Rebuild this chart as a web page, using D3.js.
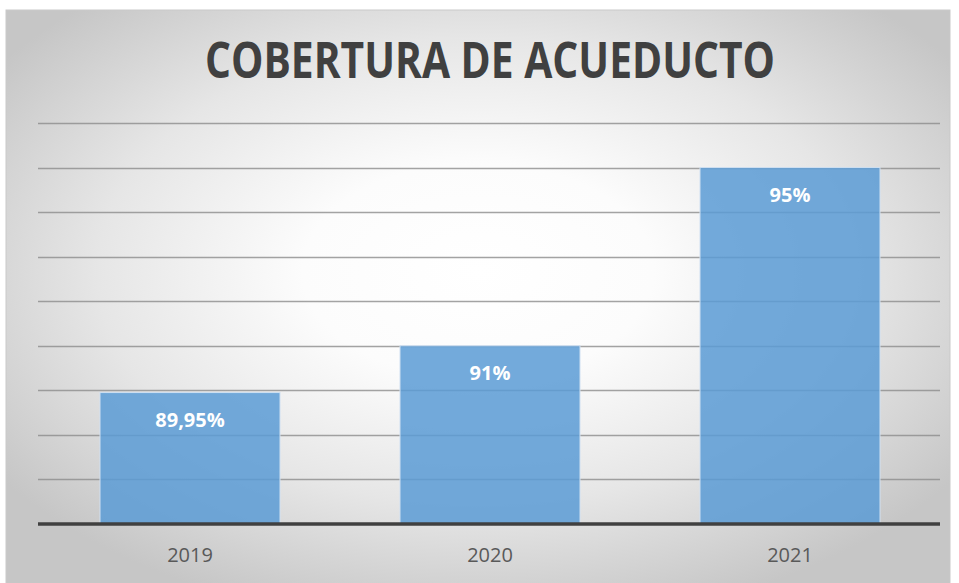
<!DOCTYPE html>
<html><head><meta charset="utf-8">
<script src="https://cdn.jsdelivr.net/npm/d3@7"></script>
<style>body{margin:0;background:#fff}svg{display:block}</style>
</head><body>
<script>
const categories = ["2019", "2020", "2021"];
const values = [89.95, 91, 95];
const valueLabels = ["89,95%", "91%", "95%"];
const gridTicks = [88, 89, 90, 91, 92, 93, 94, 95, 96];
const title = "COBERTURA DE ACUEDUCTO";

const W = 959, H = 583;
const svg = d3.select("body").append("svg").attr("width", W).attr("height", H);
const defs = svg.append("defs");
const rg = defs.append("radialGradient").attr("id", "bg")
  .attr("cx", "50%").attr("cy", "45%").attr("r", "62%");
rg.append("stop").attr("offset", "0%").attr("stop-color", "#ffffff");
rg.append("stop").attr("offset", "30%").attr("stop-color", "#fcfcfc");
rg.append("stop").attr("offset", "65%").attr("stop-color", "#e6e6e6");
rg.append("stop").attr("offset", "100%").attr("stop-color", "#c6c6c6");

svg.append("rect").attr("x", 6).attr("y", 10).attr("width", 944).attr("height", 580)
  .attr("fill", "url(#bg)").attr("stroke", "#c9c9c9").attr("stroke-width", 1);

const x = d3.scaleBand().domain(categories).range([40, 940]).paddingInner(0.4).paddingOuter(0.2);
const y = d3.scaleLinear().domain([87, 96]).range([524, 123]);

svg.append("g").selectAll("line").data(gridTicks).join("line")
  .attr("x1", 38).attr("x2", 940)
  .attr("y1", d => Math.round(y(d)) + 0.5).attr("y2", d => Math.round(y(d)) + 0.5)
  .attr("stroke", "#8c8c8c").attr("stroke-width", 1.3).attr("stroke-opacity", 0.8);

svg.append("g").selectAll("rect").data(values).join("rect")
  .attr("x", (d, i) => x(categories[i]))
  .attr("y", d => y(d))
  .attr("width", x.bandwidth())
  .attr("height", d => y(87) - y(d))
  .attr("fill", "#5b9bd5").attr("fill-opacity", 0.85)
  .attr("stroke", "#cfe0f2").attr("stroke-width", 1);

svg.append("line").attr("x1", 38).attr("x2", 940).attr("y1", 524).attr("y2", 524)
  .attr("stroke", "#404040").attr("stroke-width", 3.5);

svg.append("g").selectAll("text").data(values).join("text")
  .attr("x", (d, i) => x(categories[i]) + x.bandwidth() / 2)
  .attr("y", d => y(d) + 34)
  .attr("text-anchor", "middle")
  .attr("font-family", "'Open Sans', sans-serif").attr("font-weight", "bold")
  .attr("font-size", 20).attr("fill", "#ffffff")
  .text((d, i) => valueLabels[i]);

const xAxis = svg.append("g").attr("transform", "translate(0,524)")
  .call(d3.axisBottom(x).tickSize(0).tickPadding(0));
xAxis.select(".domain").remove();
xAxis.selectAll("text").attr("y", 38).attr("dy", 0)
  .attr("font-family", "'Open Sans', sans-serif").attr("font-size", 20).attr("fill", "#595959");

svg.append("text").attr("x", 490).attr("y", 78).attr("text-anchor", "middle")
  .attr("font-family", "'Open Sans', sans-serif").attr("font-weight", "bold")
  .attr("font-size", 50).attr("fill", "#404040")
  .attr("textLength", 570).attr("lengthAdjust", "spacingAndGlyphs")
  .text(title);
</script>
</body></html>
